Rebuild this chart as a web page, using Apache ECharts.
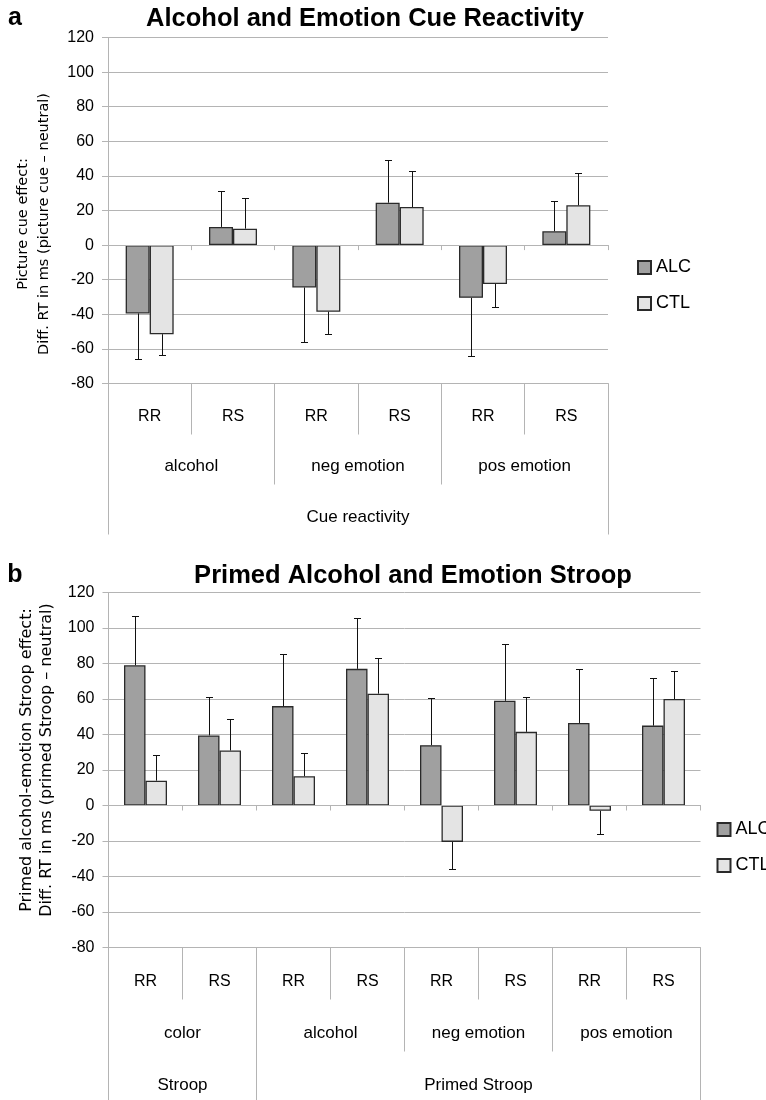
<!DOCTYPE html>
<html><head><meta charset="utf-8">
<script src="https://cdn.jsdelivr.net/npm/echarts@6/dist/echarts.min.js"></script>
<style>html,body{margin:0;padding:0;background:#fff}#c{width:766px;height:1100px}</style>
</head><body><div id="c"></div>
<script>
// ---------- Panel a: Cue reactivity ----------
const catsA = ['RR', 'RS', 'RR', 'RS', 'RR', 'RS'];
const groupsA = ['alcohol', 'neg emotion', 'pos emotion'];
const topA = ['Cue reactivity'];
const alcA = [-39.5, 10.5, -24.5, 24.5, -30.5, 8];
const ctlA = [-51.5, 9.5, -38.5, 22, -22.5, 23];
const alcErrA = [-66, 31, -56, 49, -64, 25.5];
const ctlErrA = [-63.5, 27, -51.5, 43, -35.5, 41.5];

// ---------- Panel b: Primed Stroop ----------
const catsB = ['RR', 'RS', 'RR', 'RS', 'RR', 'RS', 'RR', 'RS'];
const groupsB = ['color', 'alcohol', 'neg emotion', 'pos emotion'];
const topB = ['Stroop', 'Primed Stroop'];
const topBGroups = [1, 3];
const alcB = [79, 39.5, 56, 77, 34, 59, 46.5, 45];
const ctlB = [14, 31, 16.5, 63, -20.5, 41.5, -3, 60];
const alcErrB = [107, 61, 85.5, 105.5, 60.5, 91, 77, 72];
const ctlErrB = [28.5, 49, 29.5, 83, -36, 61, -16, 76];

const titleA = 'Alcohol and Emotion Cue Reactivity';
const titleB = 'Primed Alcohol and Emotion Stroop';
const yNameA = 'Picture cue effect:\nDiff. RT in ms (picture cue \u2013 neutral)';
const yNameB = 'Primed alcohol-emotion Stroop effect:\nDiff. RT in ms (primed Stroop \u2013 neutral)';
const seriesNames = ['ALC', 'CTL'];

const GREY = '#b4b4b4';
const FONT = "'Liberation Sans', Arial, sans-serif";
const ALC_COL = '#a0a0a0', CTL_COL = '#e4e4e4';

const chart = echarts.init(document.getElementById('c'), null, {renderer: 'canvas'});

function yAxisFor(grid, name, shift, fs, lh, gap) {
  return {
    type: 'value', gridIndex: grid, min: -80, max: 120, interval: 20,
    axisLine: {show: true, lineStyle: {color: GREY, width: 1}},
    axisTick: {show: true, length: 6, lineStyle: {color: GREY}},
    axisLabel: {fontSize: 16, color: '#000', fontFamily: FONT, margin: 14},
    splitLine: {show: true, lineStyle: {color: GREY, width: 1}},
    name: name, nameLocation: 'middle', nameRotate: 90, nameGap: gap,
    nameTextStyle: {fontFamily: "'DejaVu Sans', sans-serif", fontSize: fs, lineHeight: lh, color: '#000',
      padding: shift > 0 ? [0, shift, 0, 0] : [0, 0, 0, -shift]}
  };
}
function levelAxis(grid, data, tickLen, margin, fs) {
  return {
    type: 'category', gridIndex: grid, data: data, position: 'bottom', offset: 0,
    axisLine: {show: false, onZero: false},
    axisTick: {show: true, length: tickLen, interval: 0, lineStyle: {color: GREY}},
    axisLabel: {show: true, interval: 0, margin: margin, fontSize: fs, color: '#000', fontFamily: FONT},
    splitLine: {show: false}
  };
}
function mainAxis(grid, data) {
  return {
    type: 'category', gridIndex: grid, data: data, position: 'bottom',
    axisLine: {show: true, onZero: true, lineStyle: {color: GREY, width: 1}},
    axisTick: {show: true, length: 5, interval: 0, lineStyle: {color: GREY}},
    axisLabel: {show: false}, splitLine: {show: false}, z: 5
  };
}
// uneven top level for panel b
const topBTicks = [0];
const topBLabelPos = [];
topBGroups.forEach((g) => {
  const start = topBTicks[topBTicks.length - 1];
  topBLabelPos.push(start + g / 2);
  topBTicks.push(start + g);
});

function errRender(offsetPx) {
  return function (params, api) {
    const i = api.value(0), v = api.value(1), e = api.value(2);
    const p0 = api.coord([i, v]);
    const p1 = api.coord([i, e]);
    const x = Math.round(p0[0] + offsetPx) + 0.5;
    const ye = Math.round(p1[1]) + 0.5;
    return {
      type: 'group', children: [
        {type: 'line', shape: {x1: x, y1: p0[1], x2: x, y2: ye}, style: {stroke: '#111', lineWidth: 1}},
        {type: 'line', shape: {x1: x - 3.5, y1: ye, x2: x + 3.5, y2: ye}, style: {stroke: '#111', lineWidth: 1}}
      ]
    };
  };
}
function barSeries(name, xi, yi, vals, color, bw) {
  return {
    type: 'bar', name: name, xAxisIndex: xi, yAxisIndex: yi, data: vals,
    barWidth: bw, barGap: '0%',
    itemStyle: {color: color, borderColor: '#2a2a2a', borderWidth: 1.3},
    emphasis: {disabled: true}, z: 3
  };
}
function errSeries(name, xi, yi, vals, errs, off) {
  return {
    type: 'custom', name: name, xAxisIndex: xi, yAxisIndex: yi,
    data: vals.map((v, i) => [i, v, errs[i]]),
    renderItem: errRender(off), z: 4, silent: true,
    encode: {x: 0, y: [1, 2]}
  };
}

const BW_A = 24, BW_B = 21.5;

const option = {
  animation: false,
  backgroundColor: '#fff',
  textStyle: {fontFamily: FONT},
  grid: [
    {left: 108, top: 37.5, width: 500, height: 346},
    {left: 108.5, top: 592.5, width: 592, height: 355}
  ],
  xAxis: [
    mainAxis(0, catsA),
    levelAxis(0, catsA, 51, 25, 16),
    levelAxis(0, groupsA, 101, 74, 17),
    levelAxis(0, topA, 151, 125, 17),
    mainAxis(1, catsB),
    levelAxis(1, catsB, 52, 26, 16),
    levelAxis(1, groupsB, 104, 77, 17),
    {
      type: 'value', gridIndex: 1, min: 0, max: groupsB.length, position: 'bottom', offset: 0,
      axisLine: {show: false, onZero: false},
      axisTick: {show: true, length: 153, customValues: topBTicks, lineStyle: {color: GREY}},
      axisLabel: {show: true, margin: 129, customValues: topBLabelPos, fontSize: 17, color: '#000', fontFamily: FONT,
        formatter: v => topB[topBLabelPos.indexOf(v)]},
      splitLine: {show: false}
    }
  ],
  yAxis: [yAxisFor(0, yNameA, 27, 14.5, 21, 53), yAxisFor(1, yNameB, -20, 16, 20, 51)],
  legend: [
    {left: 632, top: 253.5, orient: 'vertical', itemWidth: 13, itemHeight: 13, itemGap: 18,
     icon: 'rect', data: seriesNames, selectedMode: false,
     textStyle: {fontSize: 18, color: '#000', fontFamily: FONT}},
    {left: 711.5, top: 815.5, orient: 'vertical', itemWidth: 13, itemHeight: 13, itemGap: 18,
     icon: 'rect', data: seriesNames, selectedMode: false,
     textStyle: {fontSize: 18, color: '#000', fontFamily: FONT}}
  ],
  graphic: [
    {type: 'text', x: 15, y: 18, style: {text: 'a', font: 'bold 25px ' + FONT, fill: '#000', textAlign: 'center', textVerticalAlign: 'middle'}},
    {type: 'text', x: 365, y: 19, style: {text: titleA, font: 'bold 25.5px ' + FONT, fill: '#000', textAlign: 'center', textVerticalAlign: 'middle'}},
    {type: 'text', x: 15, y: 575, style: {text: 'b', font: 'bold 25px ' + FONT, fill: '#000', textAlign: 'center', textVerticalAlign: 'middle'}},
    {type: 'text', x: 413, y: 576, style: {text: titleB, font: 'bold 25.5px ' + FONT, fill: '#000', textAlign: 'center', textVerticalAlign: 'middle'}}
  ],
  series: [
    barSeries('ALC', 0, 0, alcA, ALC_COL, BW_A),
    barSeries('CTL', 0, 0, ctlA, CTL_COL, BW_A),
    errSeries('ALC err a', 0, 0, alcA, alcErrA, -BW_A / 2),
    errSeries('CTL err a', 0, 0, ctlA, ctlErrA, BW_A / 2),
    barSeries('ALC', 4, 1, alcB, ALC_COL, BW_B),
    barSeries('CTL', 4, 1, ctlB, CTL_COL, BW_B),
    errSeries('ALC err b', 4, 1, alcB, alcErrB, -BW_B / 2),
    errSeries('CTL err b', 4, 1, ctlB, ctlErrB, BW_B / 2)
  ]
};
chart.setOption(option);
</script>
</body></html>
